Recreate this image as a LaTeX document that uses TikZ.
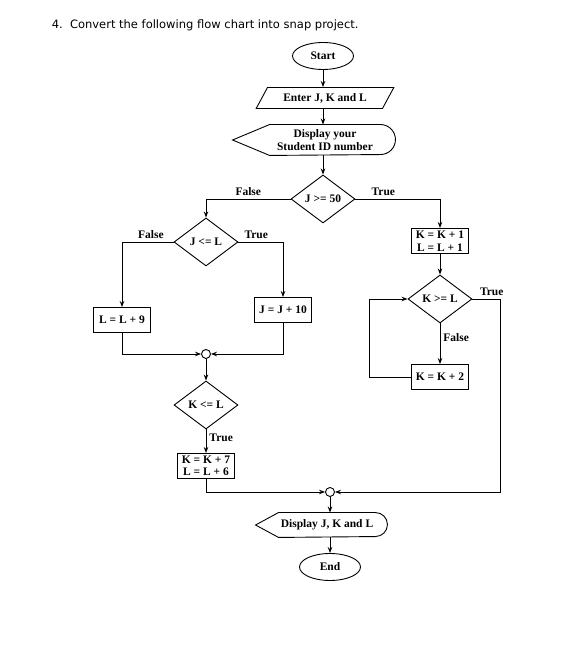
\documentclass[tikz,border=0pt]{standalone}
\usepackage{fontspec}
\setmainfont{Liberation Serif}
\newfontfamily\titlefont{DejaVu Sans}
\newcommand{\flowfont}{\fontsize{11.5}{12.5}\selectfont\bfseries}
\usetikzlibrary{shapes.geometric, positioning, arrows.meta}
\tikzset{
terminal/.style={shape=ellipse, draw, minimum width=61pt, minimum height=27pt, inner sep=0, font=\flowfont},
inout/.style={trapezium, trapezium left angle=50, trapezium right angle=130, trapezium stretches=true, draw, minimum width=138pt, minimum height=21pt, inner sep=0, font=\flowfont},
process/.style={rectangle, draw, minimum width=57pt, minimum height=25pt, inner sep=2.5pt, align=center, font=\flowfont},
decision/.style={diamond, draw, minimum width=64pt, minimum height=48pt, inner sep=0, font=\flowfont},
display/.style={rectangle, inner sep=0, align=center, font=\flowfont},
joint/.style={circle, draw, minimum size=9pt, inner sep=0},
lbl/.style={inner sep=3pt, font=\flowfont}}

\begin{document}
\begin{tikzpicture}[x=1pt, y=1pt, line width=0.9pt, >={Stealth[length=6pt, width=4.5pt]}]
\useasboundingbox (0,0) rectangle (585,666);
\node [anchor=west, font=\titlefont\fontsize{11.5}{13}\selectfont] (title) at (48,641) {4.\ \ Convert the following flow chart into snap project.};
% main column
\node [terminal] (start) at (323,610) {Start};
\node [inout] (enter) at (325,568) {Enter J, K and L};
\node [display, minimum width=110pt, minimum height=30pt] (dsp1) at (325,526) {Display your\\Student ID number};
\node [decision] (d50) at (323,467) {J >= 50};
% left branch
\node [decision] (djl) at (206,424) {J <= L};
\node [process] (lp9) at (122,346) {L = L + 9};
\node [process] (jp10) at (283,356) {J = J + 10};
\node [joint] (j1) at (206,312) {};
\node [decision] (dkl) at (206,261) {K <= L};
\node [process] (k7) at (206,200) {K = K + 7\\L = L + 6};
% right branch
\node [process] (k1) at (440,425) {K = K + 1\\L = L + 1};
\node [decision] (dkg) at (440,367) {K >= L};
\node [process] (k2) at (440,289) {K = K + 2};
\coordinate (back) at (369,289);
\coordinate (side) at (500,174);
% end
\node [joint] (j2) at (330,174) {};
\node [display, minimum width=96pt, minimum height=24pt] (dsp2) at (327,141) {Display J, K and L};
\node [terminal] (end) at (330,99) {End};

\foreach \n/\t/\r in {dsp1/37pt/15pt, dsp2/23pt/12pt}
  \draw ([xshift=-\t]\n.west) -- (\n.north west) -- (\n.north east) arc [start angle=90, end angle=-90, radius=\r] -- (\n.south west) -- cycle;

\draw [->] (start) -- (start |- enter.north);
\draw [->] (start |- enter.south) -- (start |- dsp1.north);
\draw [->] (d50 |- dsp1.south) -- (d50);
\draw [->] (d50.west) -| node [lbl, pos=0.25, above] {False} (djl.north);
\draw [->] (d50.east) -| node [lbl, pos=0.165, above] {True} (k1.north);
\draw [->] (djl.west) -| node [lbl, pos=0.22, above] {False} (lp9.north);
\draw [->] (djl.east) -| node [lbl, pos=0.2, above] {True} (jp10.north);
\draw [->] (lp9) |- (j1);
\draw [->] (jp10) |- (j1);
\draw [->] (j1) -- (dkl);
\draw [->] (dkl) -- node [lbl, pos=0.35, right] {True} (k7);
\draw [->] (k7) |- (j2);
\draw [->] (k1) -- (dkg);
\draw [->] (dkg) -- node [lbl, pos=0.35, right] {False} (k2);
\draw [->] (k2) -- (back) |- (dkg);
\draw [->] (dkg) -- node [lbl, pos=0.7, above] {True} (dkg -| side) -- (side) -- (j2);
\draw [->] (j2) -- (j2 |- dsp2.north);
\draw [->] (dsp2.south -| end) -- (end);
\end{tikzpicture}
\end{document}
